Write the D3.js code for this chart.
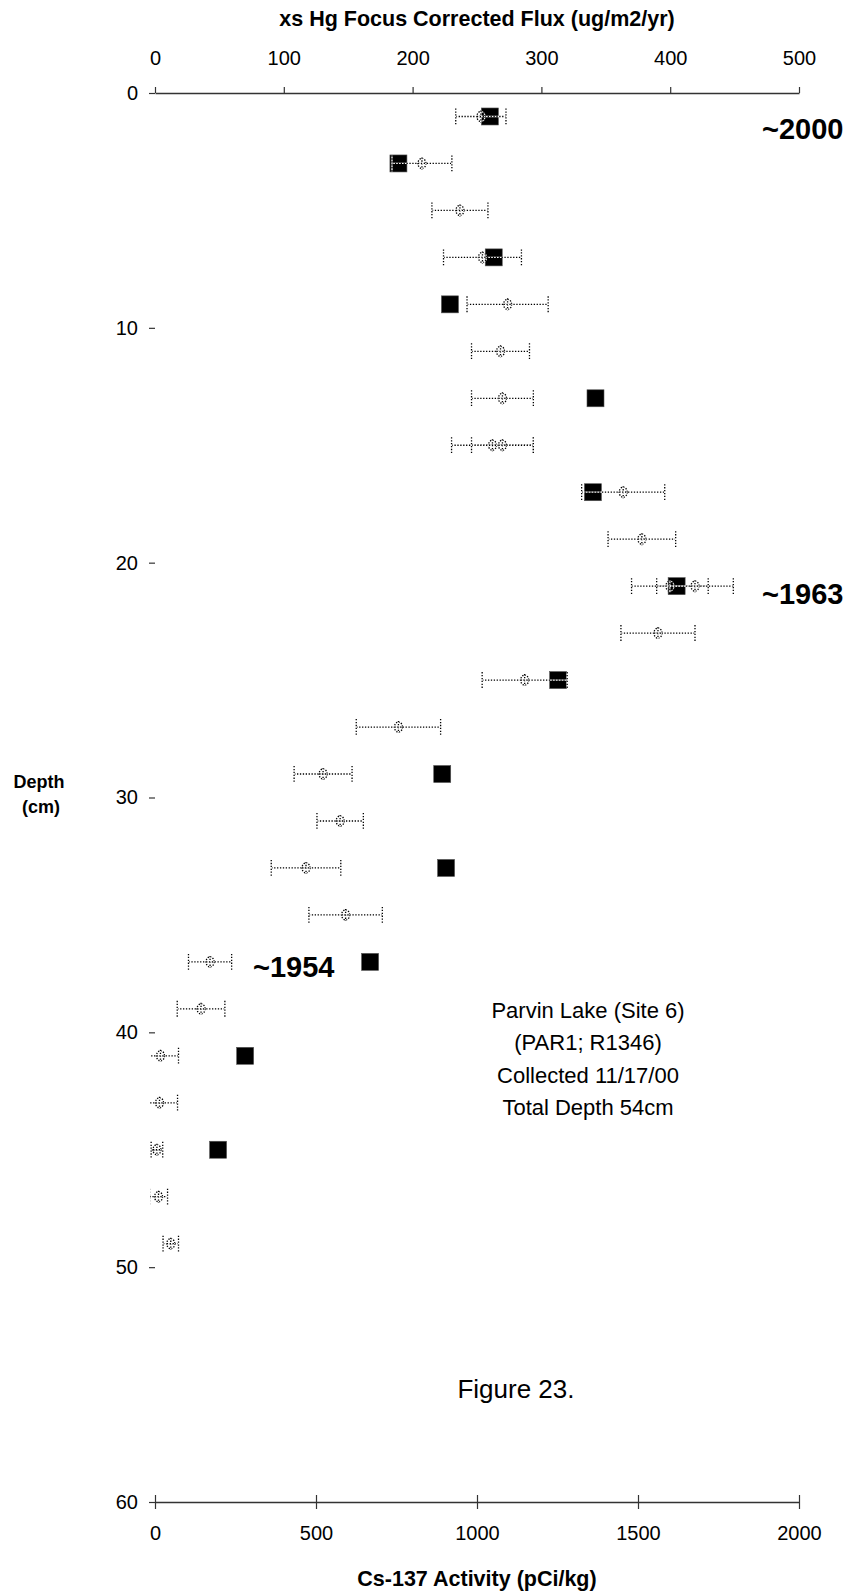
<!DOCTYPE html>
<html><head><meta charset="utf-8">
<script src="https://cdn.jsdelivr.net/npm/d3@7"></script>
<style>
body{margin:0;background:#fff}
svg{display:block}
text{font-family:"Liberation Sans",Arial,sans-serif;fill:#000}
</style>
</head><body>
<svg id="c" width="848" height="1592"></svg>
<script>
// ---- data ----
const fluxDepth = [1, 3, 7, 9, 13, 17, 21, 25, 29, 33, 37, 41, 45];
const fluxValue = [260, 189, 263, 229, 342, 340, 405, 313, 223, 226, 167, 70, 49];

const csDepth = [1, 3, 5, 7, 9, 11, 13, 15, 15, 17, 19, 21, 21, 23, 25, 27, 29, 31, 33, 35, 37, 39, 41, 43, 45, 47, 49];
const csValue = [1012, 829, 947, 1017, 1095, 1073, 1079, 1048, 1079, 1454, 1512, 1599, 1677, 1562, 1148, 756, 522, 575, 469, 592, 171, 143, 17, 14, 6, 11, 49];
const csError = [78, 93, 87, 121, 126, 90, 96, 127, 96, 129, 105, 119, 119, 115, 132, 131, 90, 72, 108, 114, 67, 74, 56, 56, 18, 28, 24];

const depthTicks = [0, 10, 20, 30, 40, 50, 60];
const fluxTicks = [0, 100, 200, 300, 400, 500];
const csTicks = [0, 500, 1000, 1500, 2000];

const dateLabels = ["~2000", "~1963", "~1954"];
const noteLines = ["Parvin Lake (Site 6)", "(PAR1; R1346)", "Collected 11/17/00", "Total Depth 54cm"];

// ---- scales ----
const svg = d3.select("#c");
const FONT = '"Liberation Sans",Arial,sans-serif';
const y = d3.scaleLinear().domain([0, 60]).range([93, 1502]);
const xF = d3.scaleLinear().domain([0, 500]).range([155, 799]);
const xC = d3.scaleLinear().domain([0, 2000]).range([155, 799]);

svg.append("clipPath").attr("id", "plot")
  .append("rect").attr("x", 150).attr("y", 60).attr("width", 700).attr("height", 1460);

// ---- axes ----
const fmt = d3.format("d");
const gTop = svg.append("g").attr("transform", `translate(0,${y(0)})`)
  .call(d3.axisTop(xF).tickValues(fluxTicks).tickFormat(fmt).tickSizeOuter(0).tickSizeInner(6).tickPadding(22));
const gBot = svg.append("g").attr("transform", `translate(0,${y(60)})`)
  .call(d3.axisBottom(xC).tickValues(csTicks).tickFormat(fmt).tickSizeOuter(0).tickSizeInner(7).tickPadding(17));
gBot.selectAll(".tick line").attr("y1", -7);
const gLeft = svg.append("g").attr("transform", `translate(${xF(0)},0)`)
  .call(d3.axisLeft(y).tickValues(depthTicks).tickFormat(fmt).tickSizeOuter(0).tickSizeInner(6).tickPadding(11));
gLeft.select(".domain").remove();

[gTop, gBot, gLeft].forEach(g => {
  g.attr("font-family", FONT).attr("font-size", 20);
  g.select(".domain").attr("stroke", "#333").attr("stroke-width", 1.5);
  g.selectAll(".tick line").attr("stroke", "#333").attr("stroke-width", 1.2);
  g.selectAll(".tick text").attr("fill", "#000");
});

// ---- axis titles ----
svg.append("text").attr("x", 477).attr("y", 26).attr("text-anchor", "middle")
  .attr("font-size", 21.5).attr("font-weight", "bold").text("xs Hg Focus Corrected Flux (ug/m2/yr)");
svg.append("text").attr("x", 477).attr("y", 1586).attr("text-anchor", "middle")
  .attr("font-size", 21.5).attr("font-weight", "bold").text("Cs-137 Activity (pCi/kg)");
svg.append("text").attr("x", 39).attr("y", 788).attr("text-anchor", "middle")
  .attr("font-size", 18).attr("font-weight", "bold").text("Depth");
svg.append("text").attr("x", 41).attr("y", 813).attr("text-anchor", "middle")
  .attr("font-size", 18).attr("font-weight", "bold").text("(cm)");

// ---- flux squares ----
const SQ = 17;
svg.append("g").selectAll("rect").data(fluxDepth).join("rect")
  .attr("x", (d, i) => xF(fluxValue[i]) - SQ / 2)
  .attr("y", d => y(d) - SQ / 2)
  .attr("width", SQ).attr("height", SQ)
  .attr("fill", "#000").attr("stroke", "#555").attr("stroke-width", 0.6);

// ---- Cs error bars and markers ----
const gCs = svg.append("g").attr("clip-path", "url(#plot)");
function dottedLine(g, x1, y1, x2, y2) {
  g.append("line").attr("x1", x1).attr("y1", y1).attr("x2", x2).attr("y2", y2)
    .attr("stroke", "#fff").attr("stroke-width", 1.3);
  g.append("line").attr("x1", x1).attr("y1", y1).attr("x2", x2).attr("y2", y2)
    .attr("stroke", "#000").attr("stroke-width", 1.3).attr("stroke-dasharray", "1.3,1.6");
}
csDepth.forEach((d, i) => {
  const g = gCs.append("g");
  const cy = y(d);
  const xl = xC(csValue[i] - csError[i]);
  const xr = xC(csValue[i] + csError[i]);
  const cx = xC(csValue[i]);
  dottedLine(g, xl, cy, xr, cy);
  dottedLine(g, xl, cy - 8, xl, cy + 8);
  dottedLine(g, xr, cy - 8, xr, cy + 8);
  g.append("ellipse").attr("cx", cx).attr("cy", cy).attr("rx", 4).attr("ry", 5)
    .attr("fill", "none").attr("stroke", "#fff").attr("stroke-width", 1.3);
  g.append("ellipse").attr("cx", cx).attr("cy", cy).attr("rx", 4).attr("ry", 5)
    .attr("fill", "none").attr("stroke", "#000").attr("stroke-width", 1.3).attr("stroke-dasharray", "1.3,1.3");
  dottedLine(g, cx, cy - 6, cx, cy + 6);
  dottedLine(g, cx - 4, cy, cx + 4, cy);
});

// ---- date annotations ----
const dateX = [762, 762, 253];
const dateDepth = [1.5, 21.3, 37.2];
dateLabels.forEach((t, i) => {
  svg.append("text").attr("x", dateX[i]).attr("y", y(dateDepth[i]) + 10.5)
    .attr("font-size", 29).attr("font-weight", "bold").text(t);
});

// ---- note ----
const note = svg.append("text").attr("text-anchor", "middle").attr("font-size", 22);
noteLines.forEach((t, i) => {
  note.append("tspan").attr("x", 588).attr("y", 1018 + i * 32.3).text(t);
});
svg.append("text").attr("x", 516).attr("y", 1398).attr("text-anchor", "middle")
  .attr("font-size", 26).text("Figure 23.");
</script>
</body></html>
